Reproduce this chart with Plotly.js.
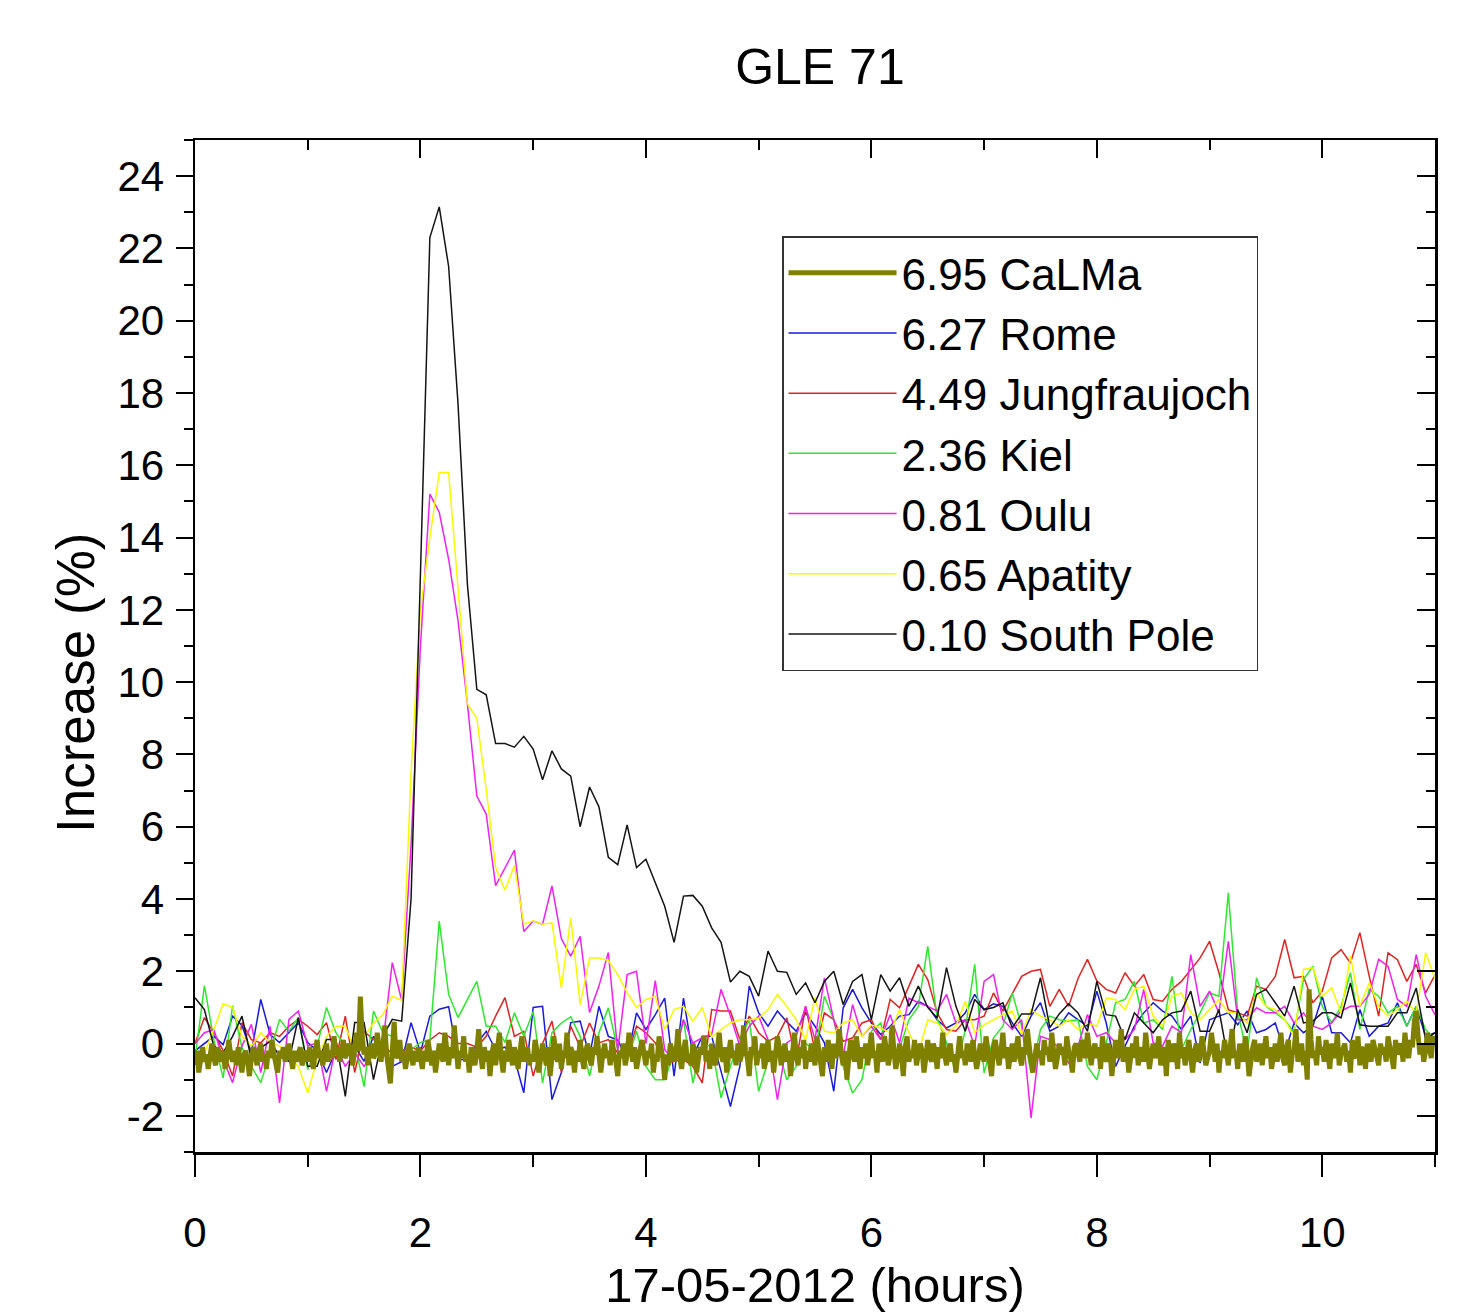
<!DOCTYPE html>
<html>
<head>
<meta charset="utf-8">
<script src="https://cdn.plot.ly/plotly-3.0.1.min.js"></script>
<style>
html,body{margin:0;padding:0;background:#fff;}
#chart{width:1460px;height:1313px;}
</style>
</head>
<body>
<div id="chart"></div>
<script>
// ---- DATA ----
const chartTitle = 'GLE 71';
const xTitle = '17-05-2012 (hours)';
const yTitle = 'Increase (%)';

const seriesNames = ['6.95 CaLMa', '6.27 Rome', '4.49 Jungfraujoch', '2.36 Kiel', '0.81 Oulu', '0.65 Apatity', '0.10 South Pole'];

const xTickVals = [0, 2, 4, 6, 8, 10];
const xTickText = ['0', '2', '4', '6', '8', '10'];
const yTickVals = [-2, 0, 2, 4, 6, 8, 10, 12, 14, 16, 18, 20, 22, 24];
const yTickText = ['-2', '0', '2', '4', '6', '8', '10', '12', '14', '16', '18', '20', '22', '24'];

const calmaStepMin = 1;   // CaLMa sampled every minute
const nmStepMin = 5;      // other monitors every 5 minutes

// CaLMa, 1-min values (%)
const calma = [
-0.6,-0.2,-0.8,-0.4,-0.1,-0.5,-0.3,-0.7,-0.2,0.0,-0.4,-0.6,-0.1,-0.3,-0.5,-0.2,-0.7,-0.4,0.1,-0.3,-0.5,-0.2,-0.6,-0.1,-0.4,-0.8,-0.3,-0.2,-0.5,-0.9,
-0.4,-0.1,-0.3,-0.6,-0.2,0.0,-0.5,-0.3,-0.7,-0.2,-0.4,0.1,-0.3,-0.6,-0.8,-0.2,-0.4,-0.1,-0.5,-0.3,0.0,-0.4,-0.7,-0.2,-0.5,-0.3,-0.1,-0.6,-0.4,-0.2,
-0.5,-0.1,-0.3,-0.7,-0.2,0.1,-0.4,-0.2,-0.6,-0.3,0.0,-0.5,-0.2,-0.4,0.2,-0.3,-0.1,-0.5,-0.2,0.1,-0.4,-0.2,0.0,-0.3,-0.6,-0.1,0.3,-0.2,1.3,0.2,
-0.3,-0.1,-0.6,-0.2,0.0,-0.4,-0.3,0.3,-0.2,-0.5,-0.1,0.5,-0.3,-0.8,-1.1,-0.2,0.6,-0.4,-0.3,0.1,-0.5,-0.2,-0.7,-0.4,0.0,-0.3,-0.6,-0.2,-0.5,-0.1,
-0.4,-0.7,-0.2,-0.5,0.1,-0.3,-0.6,-0.2,-0.8,-0.4,0.0,-0.3,-0.5,0.3,-0.2,-0.6,-0.1,-0.4,0.5,-0.3,-0.7,-0.2,-0.4,0.2,-0.5,-0.3,-0.8,-0.1,-0.4,-0.6,
-0.2,0.4,-0.3,-0.7,-0.1,-0.5,-0.2,-0.9,-0.3,0.0,-0.6,-0.2,0.3,-0.4,-0.8,-0.2,-0.5,0.1,-0.3,-0.6,-0.1,-0.4,-0.7,-0.2,0.2,-0.5,-0.3,-0.1,-0.6,-0.3,
-0.5,0.1,-0.2,-0.8,-0.4,0.0,-0.3,-0.6,-0.1,-0.9,-0.4,0.2,-0.3,-0.5,0.0,-0.7,-0.2,-0.4,0.3,-0.6,-0.1,-0.3,-0.8,-0.2,-0.5,0.1,-0.4,-0.7,-0.2,0.0,
-0.4,-0.6,-0.1,-0.3,0.2,-0.5,-0.8,-0.3,0.0,-0.4,-0.2,-0.6,0.1,-0.3,-0.5,-0.9,-0.2,-0.4,0.0,-0.6,-0.3,0.3,-0.2,-0.5,-0.1,-0.7,-0.4,-0.2,0.1,-0.3,
-0.6,-0.2,-0.4,0.0,-0.8,-0.3,-0.5,0.2,-0.1,-0.4,-1.0,-0.3,-0.6,0.0,-0.2,-0.5,-0.3,0.4,-0.4,-0.7,-0.2,0.1,-0.5,-0.3,-0.6,0.0,-0.2,-0.8,-0.4,-0.1,
-0.3,0.2,-0.5,-0.2,-0.7,0.0,-0.4,-0.6,-0.2,0.3,-0.3,-0.5,-0.1,-0.8,-0.3,0.1,-0.4,-0.2,-0.6,0.0,-0.5,-0.3,0.5,-0.2,-0.4,-0.9,-0.1,-0.3,0.2,-0.6,
-0.2,-0.4,0.0,-0.7,-0.3,0.1,-0.5,-0.2,-0.8,-0.4,0.2,-0.1,-0.6,-0.3,0.0,-0.5,-0.2,-0.9,-0.4,0.3,-0.3,-0.6,-0.1,-0.4,0.1,-0.7,-0.2,-0.5,0.0,-0.3,
-0.6,0.2,-0.2,-0.4,-0.9,-0.1,-0.5,0.1,-0.3,-0.7,0.0,-0.4,-0.2,0.4,-0.3,-0.6,-0.2,-1.0,-0.4,0.1,-0.2,-0.5,0.2,-0.3,-0.7,-0.1,-0.4,0.0,-0.6,-0.2,
0.3,-0.4,-0.2,-0.8,0.0,-0.3,-0.5,0.2,-0.1,-0.6,-0.3,0.5,-0.2,-0.7,-0.4,0.0,-0.3,-0.9,-0.1,0.2,-0.5,-0.2,-0.4,0.1,-0.6,-0.3,0.0,-0.2,-0.8,-0.4,
0.1,-0.3,-0.5,0.0,-0.2,-0.7,-0.1,-0.4,0.3,-0.3,-0.6,-0.2,0.0,-0.5,-0.3,-0.8,-0.1,0.2,-0.4,-0.2,-0.6,0.0,-0.3,-0.5,0.1,-0.2,-0.7,-0.4,0.0,-0.3,
-0.5,0.2,-0.2,-0.4,-0.9,-0.1,0.1,-0.3,-0.6,-0.2,0.3,-0.4,-0.1,-0.7,-0.3,0.0,-0.5,-0.2,0.2,-0.4,-0.6,-0.1,-0.3,0.4,-0.2,-0.5,-0.8,-0.3,0.0,-0.4,
-0.2,-0.6,0.1,-0.3,-0.1,-0.5,0.3,-0.2,-0.7,-0.4,0.0,-0.3,-0.1,-0.6,0.2,-0.2,-0.4,-0.8,-0.1,0.0,-0.3,-0.5,0.1,-0.2,-0.4,0.3,-0.3,-0.6,-0.2,0.0,
-0.4,-0.1,-0.7,0.2,-0.3,-0.5,0.0,-0.2,-0.9,-0.3,0.1,-0.4,-0.2,0.4,-0.5,-0.3,-0.1,-0.8,-0.2,0.0,-0.4,0.2,-0.6,-0.3,-0.1,-0.5,0.3,-0.2,-0.7,-0.3,
0.0,-0.4,-0.2,0.2,-0.6,-0.3,-0.1,-0.9,0.1,-0.3,-0.5,0.0,-0.2,-0.7,0.3,-0.4,-0.1,-0.6,-0.2,0.1,-0.4,-0.8,-0.2,0.0,-0.5,-0.3,0.2,-0.1,-0.6,-0.4,
-0.2,0.3,-0.3,-0.5,0.0,-0.8,-0.2,-0.4,0.1,-0.3,-0.6,-0.1,0.4,-0.4,-0.2,-0.7,0.0,-0.3,-0.5,0.2,-0.2,-0.9,-0.4,-0.1,0.1,-0.5,-0.3,0.0,-0.6,-0.2,
0.2,-0.4,-0.1,-0.7,-0.3,0.0,-0.5,-0.2,0.3,-0.4,-0.6,-0.1,0.1,-0.8,-0.3,-0.2,0.4,-0.5,-0.3,0.0,-0.6,-0.2,-1.0,1.5,0.1,-0.4,-0.2,-0.6,0.2,-0.3,
-0.1,-0.5,0.1,-0.3,-0.7,0.0,-0.2,-0.4,0.3,-0.6,-0.3,-0.1,0.0,-0.5,-0.2,-0.8,0.1,-0.3,-0.4,0.2,-0.6,-0.2,-0.1,-0.7,0.0,-0.3,-0.5,0.1,-0.2,-0.4,
-0.6,0.0,-0.3,-0.1,-0.5,0.2,-0.2,-0.4,-0.7,0.1,-0.3,-0.1,0.0,-0.5,0.3,-0.2,-0.4,0.1,-0.1,0.6,0.9,0.2,-0.3,0.0,-0.5,-0.2,0.3,-0.1,-0.4,0.2,
0.0
];

// 5-min values (%), one row per hour
const rome = [
-0.2,0.0,0.2,-0.03,0.76,0.5,-0.25,1.22,0.25,0.03,0.3,0.58,
0.03,-0.2,-0.8,-0.2,-0.4,-0.07,-0.49,0.2,-0.2,-0.63,-0.5,0.58,
-0.25,0.76,0.95,1.02,-0.44,-0.44,0.0,0.34,-0.17,-0.1,-0.4,-1.36,
1.0,1.03,-1.55,-0.8,0.58,0.62,-0.35,1.03,0.2,0.1,-0.44,0.85,
0.39,0.8,1.26,-0.9,1.26,-0.35,0.2,0.2,-0.77,-1.74,-0.63,1.59,
0.85,0.48,0.9,0.6,0.34,0.85,0.48,0.02,-1.32,0.99,1.5,0.99,
0.57,0.25,0.48,0.76,0.8,1.17,1.03,0.66,0.43,0.57,0.85,1.36,
0.94,1.1,1.03,0.57,0.2,0.76,1.13,0.34,0.48,0.85,0.66,0.48,
1.45,0.57,-0.63,-0.07,0.48,0.85,1.13,0.9,0.76,0.39,0.76,-0.54,
0.66,0.76,0.85,0.52,0.9,0.3,0.39,0.57,-0.26,0.57,0.3,0.48,
1.31,0.3,0.3,0.02,0.94,0.2,0.48,0.57,1.13,0.48,1.03,0.2,
0.3
];

const jungfraujoch = [
0.0,0.72,0.3,-0.2,-0.9,0.58,0.11,0.02,0.3,0.2,0.48,0.67,
0.48,0.25,0.58,-0.44,0.76,-0.8,0.34,0.11,0.0,-0.3,-0.2,-0.1,
-0.2,0.1,0.3,0.2,0.0,0.0,-0.1,0.2,0.76,1.27,0.2,0.34,
-0.9,0.0,0.62,-0.8,0.48,-0.1,0.57,0.02,0.11,-0.26,-0.35,0.48,
0.3,0.02,-0.58,-0.49,-0.44,-0.63,-1.09,0.94,0.9,0.9,0.11,0.76,
0.3,0.06,0.2,0.71,-0.5,1.03,-0.21,0.85,0.66,0.06,0.16,0.57,
0.66,0.11,1.22,0.99,1.59,2.19,1.77,0.85,0.39,0.34,0.66,0.66,
0.76,1.4,0.9,1.4,1.86,2.0,2.05,1.03,1.5,1.03,1.8,2.33,
1.74,1.5,1.4,1.96,1.59,1.91,1.22,1.17,1.5,1.72,2.05,2.37,
2.83,1.96,0.94,0.85,0.76,1.59,1.5,1.86,2.88,1.82,1.86,1.13,
1.45,2.37,2.6,2.23,3.07,1.86,0.76,2.51,2.32,1.72,2.19,1.4,
1.9
];

const kiel = [
-0.44,1.6,0.11,-0.95,1.05,-0.12,-0.63,-1.08,-0.26,0.67,0.34,0.72,
-0.72,-0.07,1.0,0.3,-0.07,0.0,-1.19,0.9,0.3,0.2,-0.3,-0.17,
0.03,0.1,3.39,1.36,0.72,1.2,1.72,0.48,0.48,0.03,0.85,0.2,
0.89,-1.09,0.3,0.57,0.74,0.2,-0.9,0.3,0.99,-0.17,-0.49,0.34,
-0.63,-1.0,-1.0,-0.26,0.66,-1.09,-0.03,-0.07,-1.5,-0.63,0.11,0.66,
-1.32,-0.49,-0.07,-1.0,-0.63,0.02,-0.26,1.31,0.66,-0.63,-1.37,-1.0,
0.34,0.57,-0.44,-0.12,0.66,1.03,2.69,0.71,0.02,-0.81,0.39,2.19,
-0.81,0.16,0.48,1.4,0.48,-0.81,0.39,0.76,0.66,0.62,0.66,-0.63,
-1.0,0.02,1.13,1.22,1.72,0.57,0.66,0.39,1.86,-0.17,0.39,0.85,
1.4,1.31,4.17,0.85,-0.26,1.82,1.03,0.85,0.66,0.3,1.77,2.14,
1.03,0.57,1.03,1.96,0.39,1.5,1.31,0.85,1.03,0.48,1.03,0.39,
0.11
];

const oulu = [
0.0,0.3,0.39,-0.44,-1.08,-0.07,0.53,-0.8,0.48,-1.64,0.67,0.9,
-0.07,0.02,-1.32,-0.07,-0.63,-0.26,-0.63,-0.26,0.0,2.24,1.2,5.5,
11.0,15.2,14.7,13.4,11.7,9.4,6.85,6.35,4.37,4.87,5.35,3.1,
3.39,3.3,4.36,2.9,2.42,2.97,0.86,1.59,2.52,-0.2,1.91,2.0,
0.0,1.74,-0.17,-0.49,0.66,0.02,0.16,0.25,1.5,0.76,-0.07,0.48,
0.76,0.11,-1.55,0.02,0.2,1.03,0.11,1.82,0.66,-0.35,1.08,0.2,
0.48,0.11,0.8,0.02,1.26,1.13,1.03,0.9,1.36,0.57,0.66,-0.07,
1.72,1.91,0.66,0.39,0.66,-2.06,0.2,0.11,-0.12,-0.54,-0.07,0.8,
0.2,0.3,0.02,0.11,0.39,1.5,0.02,-0.07,0.48,0.3,2.46,1.03,
1.45,0.85,2.83,0.66,0.66,0.99,0.85,0.85,1.03,0.57,0.85,0.48,
0.39,0.57,0.9,1.03,1.03,1.36,2.33,2.14,1.22,1.03,2.46,1.31,
0.8
];

const apatity = [
-0.4,-0.26,0.39,1.1,1.0,0.2,-0.07,0.3,0.02,-0.07,-0.35,-0.63,
-1.36,-0.44,0.2,0.48,0.48,-0.17,0.2,0.57,0.8,1.31,1.2,7.5,
12.0,14.0,15.8,15.8,12.6,9.4,9.0,7.03,4.87,4.24,4.93,3.3,
3.4,3.3,3.34,1.54,3.48,1.08,2.37,2.37,2.3,1.91,1.41,1.0,
1.22,1.31,0.39,0.94,1.03,0.62,1.0,0.17,0.39,0.57,0.66,0.66,
0.7,0.94,1.36,1.03,0.66,0.11,1.26,0.34,0.3,0.57,0.66,0.2,
0.52,0.43,0.3,0.94,0.3,-0.26,0.66,0.57,0.25,0.48,1.17,0.3,
0.52,0.66,0.8,0.9,0.25,0.94,0.76,0.66,0.48,0.66,0.39,0.57,
0.48,1.26,1.22,0.94,1.5,1.59,0.76,0.48,1.31,1.4,0.85,0.66,
0.94,1.22,0.85,0.85,0.57,1.4,1.03,0.94,0.66,0.2,2.05,2.1,
1.31,1.54,0.85,2.42,1.03,1.68,1.03,0.76,0.94,1.17,0.85,2.51,
1.8
];

const southPole = [
1.27,0.94,-0.07,-0.25,0.2,0.76,-0.44,-0.12,0.06,-0.35,-0.49,0.72,
-0.63,-0.63,0.11,0.11,-1.46,0.58,0.58,-1.0,0.2,0.67,0.62,4.0,
13.0,22.3,23.15,21.5,17.7,12.7,9.8,9.65,8.3,8.3,8.2,8.5,
8.15,7.3,8.1,7.6,7.4,6.0,7.1,6.55,5.15,4.95,6.05,4.87,
5.1,4.45,3.8,2.8,4.08,4.1,3.8,3.2,2.8,1.7,2.0,1.86,
1.31,2.56,2.0,1.97,1.36,1.68,1.13,1.72,2.0,1.08,1.72,1.91,
0.66,1.91,1.45,1.82,1.03,1.59,1.0,0.71,2.1,1.03,0.34,1.22,
0.94,1.0,1.13,0.44,0.82,0.82,1.82,0.44,0.82,1.1,0.85,0.34,
1.72,0.8,0.76,0.11,0.85,0.57,0.3,0.66,0.85,0.9,1.45,0.34,
0.34,0.94,-0.49,0.94,0.3,1.36,1.5,1.13,0.76,1.59,0.57,0.62,
0.85,0.85,0.71,1.68,0.52,0.48,0.48,0.48,0.85,0.85,1.54,0.11,
0.3
];

// ---- BUILD ----
const toHours = (arr, stepMin) => arr.map((_, i) => i * stepMin / 60);

const styles = {
  '6.95 CaLMa':        {color: '#808000', width: 5,   rank: 1},
  '6.27 Rome':         {color: '#1a1adc', width: 1.5, rank: 2},
  '4.49 Jungfraujoch': {color: '#e02424', width: 1.5, rank: 3},
  '2.36 Kiel':         {color: '#2ee82e', width: 1.5, rank: 4},
  '0.81 Oulu':         {color: '#ee22ee', width: 1.5, rank: 5},
  '0.65 Apatity':      {color: '#f8f800', width: 1.5, rank: 6},
  '0.10 South Pole':   {color: '#141414', width: 1.5, rank: 7}
};

const seriesData = {
  '6.95 CaLMa': [calma, calmaStepMin],
  '6.27 Rome': [rome, nmStepMin],
  '4.49 Jungfraujoch': [jungfraujoch, nmStepMin],
  '2.36 Kiel': [kiel, nmStepMin],
  '0.81 Oulu': [oulu, nmStepMin],
  '0.65 Apatity': [apatity, nmStepMin],
  '0.10 South Pole': [southPole, nmStepMin]
};

// drawing order: thin monitors first, CaLMa on top (on the mirrored top/right axes)
const drawOrder = [seriesNames[1], seriesNames[2], seriesNames[3], seriesNames[4], seriesNames[5], seriesNames[6], seriesNames[0]];

const traces = drawOrder.map(name => {
  const [vals, step] = seriesData[name];
  const st = styles[name];
  const tr = {
    type: 'scatter', mode: 'lines', name: name,
    x: toHours(vals, step), y: vals,
    line: {color: st.color, width: st.width},
    legendrank: st.rank,
    hoverinfo: 'skip'
  };
  if (name === seriesNames[0]) { tr.xaxis = 'x2'; tr.yaxis = 'y2'; }
  return tr;
});

const fontFam = 'Liberation Sans, Arial, Helvetica, sans-serif';

const layout = {
  width: 1460, height: 1313,
  paper_bgcolor: '#ffffff', plot_bgcolor: '#ffffff',
  margin: {l: 195, r: 25, t: 140, b: 161, pad: 0},
  font: {family: fontFam, color: '#000000'},
  title: {text: chartTitle, font: {size: 50, family: fontFam, color: '#000'},
          x: 0.504, xref: 'paper', xanchor: 'center', y: 0.949, yref: 'container', yanchor: 'middle'},
  showlegend: true,
  legend: {x: 0.4734, y: 0.905, xanchor: 'left', yanchor: 'top', bgcolor: '#ffffff',
           bordercolor: '#333333', borderwidth: 1.5, font: {size: 44, family: fontFam, color: '#000'},
           itemwidth: 108, tracegroupgap: 0, traceorder: 'normal'},
  annotations: [{
    text: yTitle, xref: 'paper', yref: 'paper', x: -0.0968, y: 0.4634,
    xanchor: 'center', yanchor: 'middle', textangle: -90, showarrow: false,
    font: {size: 53, family: fontFam, color: '#000'}
  }],
  xaxis: {
    range: [0, 11], tickmode: 'array', tickvals: xTickVals, ticktext: xTickText,
    ticks: 'outside', ticklen: 22, tickwidth: 2, tickcolor: '#000',
    showline: true, linewidth: 2.5, linecolor: '#000', zeroline: false, showgrid: false,
    tickfont: {size: 42, family: fontFam, color: '#000'}, ticklabelstandoff: 20,
    minor: {tickmode: 'linear', tick0: 0, dtick: 1, ticks: 'outside', ticklen: 12, tickwidth: 2, tickcolor: '#000', showgrid: false},
    title: {text: xTitle, font: {size: 49, family: fontFam, color: '#000'}, standoff: 13},
    automargin: false, fixedrange: true
  },
  yaxis: {
    range: [-3, 25], tickmode: 'array', tickvals: yTickVals, ticktext: yTickText,
    ticks: 'outside', ticklen: 17, tickwidth: 2, tickcolor: '#000',
    showline: true, linewidth: 2.5, linecolor: '#000', zeroline: false, showgrid: false,
    tickfont: {size: 42, family: fontFam, color: '#000'}, ticklabelstandoff: 3,
    minor: {tickmode: 'linear', tick0: -3, dtick: 1, ticks: 'outside', ticklen: 9, tickwidth: 2, tickcolor: '#000', showgrid: false},
    automargin: false, fixedrange: true
  },
  xaxis2: {
    overlaying: 'x', side: 'top', anchor: 'y2',
    range: [0, 11], tickmode: 'array', tickvals: xTickVals, showticklabels: false,
    ticks: 'inside', ticklen: 18, tickwidth: 2, tickcolor: '#000',
    showline: true, linewidth: 2.5, linecolor: '#000', zeroline: false, showgrid: false,
    minor: {tickmode: 'linear', tick0: 0, dtick: 1, ticks: 'inside', ticklen: 10, tickwidth: 2, tickcolor: '#000', showgrid: false},
    fixedrange: true
  },
  yaxis2: {
    overlaying: 'y', side: 'right', anchor: 'x2',
    range: [-3, 25], tickmode: 'array', tickvals: yTickVals, showticklabels: false,
    ticks: 'inside', ticklen: 18, tickwidth: 2, tickcolor: '#000',
    showline: true, linewidth: 2.5, linecolor: '#000', zeroline: false, showgrid: false,
    minor: {tickmode: 'linear', tick0: -3, dtick: 1, ticks: 'inside', ticklen: 9, tickwidth: 2, tickcolor: '#000', showgrid: false},
    fixedrange: true
  }
};

Plotly.newPlot('chart', traces, layout, {displayModeBar: false, staticPlot: true});
</script>
</body>
</html>
